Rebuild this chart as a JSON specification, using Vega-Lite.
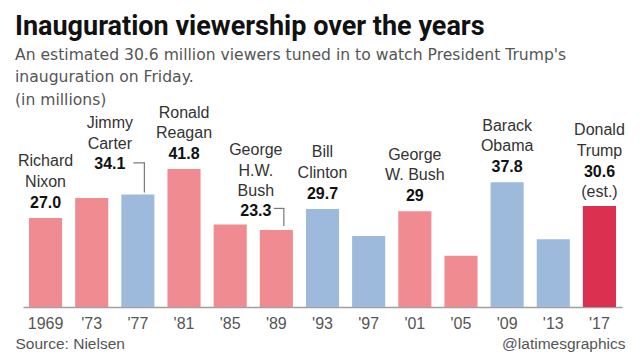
{
  "$schema": "https://vega.github.io/schema/vega-lite/v6.json",
  "width": 599,
  "height": 198,
  "autosize": "none",
  "padding": {"left": 23, "top": 109, "right": 18, "bottom": 56},
  "background": "white",
  "config": {"view": {"stroke": null}},
  "title": {
    "text": "Inauguration viewership over the years",
    "subtitle": ["An estimated 30.6 million viewers tuned in to watch President Trump's", "inauguration on Friday.", "(in millions)"],
    "anchor": "start",
    "frame": "group",
    "dx": -8,
    "offset": -5,
    "font": "Roboto",
    "fontSize": 27,
    "fontWeight": "bold",
    "color": "#111111",
    "subtitleFont": "DejaVu Sans",
    "subtitleFontSize": 15.6,
    "subtitleColor": "#555555",
    "subtitleLineHeight": 22.5,
    "subtitlePadding": 6.5
  },
  "data": {
    "values": [
      {"year": "1969", "v": 27.0, "party": "R", "pos": "c", "name": "Richard\nNixon", "label": "27.0"},
      {"year": "'73", "v": 33.0, "party": "R", "pos": "none"},
      {"year": "'77", "v": 34.1, "party": "D", "pos": "carter", "name": "Jimmy\nCarter", "label": "34.1"},
      {"year": "'81", "v": 41.8, "party": "R", "pos": "c", "name": "Ronald\nReagan", "label": "41.8"},
      {"year": "'85", "v": 25.0, "party": "R", "pos": "none"},
      {"year": "'89", "v": 23.3, "party": "R", "pos": "bush", "name": "George\nH.W.\nBush", "label": "23.3"},
      {"year": "'93", "v": 29.7, "party": "D", "pos": "c", "name": "Bill\nClinton", "label": "29.7"},
      {"year": "'97", "v": 21.5, "party": "D", "pos": "none"},
      {"year": "'01", "v": 29.0, "party": "R", "pos": "c", "name": "George\nW. Bush", "label": "29"},
      {"year": "'05", "v": 15.5, "party": "R", "pos": "none"},
      {"year": "'09", "v": 37.8, "party": "D", "pos": "c", "name": "Barack\nObama", "label": "37.8"},
      {"year": "'13", "v": 20.5, "party": "D", "pos": "none"},
      {"year": "'17", "v": 30.6, "party": "T", "pos": "trump", "name": "Donald\nTrump", "label": "30.6", "note": "(est.)"}
    ]
  },
  "encoding": {
    "x": {
      "field": "year", "type": "ordinal", "sort": null,
      "scale": {"paddingInner": 0.283, "paddingOuter": 0.13},
      "axis": {
        "title": "Source: Nielsen", "titleX": -8, "titleY": 41, "titleAlign": "left", "titleAnchor": "start",
        "titleBaseline": "alphabetic", "titleFont": "Liberation Sans", "titleFontSize": 15.5,
        "titleFontWeight": "normal", "titleColor": "#555555",
        "labelAngle": 0, "labelFont": "Liberation Sans", "labelFontSize": 16, "labelColor": "#555555",
        "ticks": false, "labelPadding": 8, "domainColor": "#a0a0a0", "domainWidth": 1.3
      }
    },
    "y": {
      "field": "v", "type": "quantitative",
      "scale": {"domain": [0, 60]},
      "axis": {
        "orient": "right", "title": "@latimesgraphics", "titleAngle": 0, "titleX": 3, "titleY": 239,
        "titleAlign": "right", "titleBaseline": "alphabetic", "titleFont": "Liberation Sans",
        "titleFontSize": 15.5, "titleFontWeight": "normal", "titleColor": "#555555",
        "labels": false, "ticks": false, "domain": false, "grid": false
      }
    }
  },
  "layer": [
    {
      "mark": {"type": "bar"},
      "encoding": {
        "color": {"field": "party", "type": "nominal", "legend": null,
          "scale": {"domain": ["R", "D", "T"], "range": ["#f08c91", "#9dbadd", "#dc3050"]}}
      }
    },
    {
      "transform": [{"filter": "datum.pos == 'c'"}],
      "mark": {"type": "text", "baseline": "alphabetic", "lineBreak": "\n", "lineHeight": 20.5, "dy": -51.5, "font": "Liberation Sans", "fontSize": 16, "color": "#333333"},
      "encoding": {"text": {"field": "name"}}
    },
    {
      "transform": [{"filter": "datum.pos == 'c'"}],
      "mark": {"type": "text", "baseline": "alphabetic", "dy": -10, "font": "Liberation Sans", "fontSize": 16, "fontWeight": "bold", "color": "#111111"},
      "encoding": {"text": {"field": "label"}}
    },
    {
      "transform": [{"filter": "datum.pos == 'trump'"}],
      "mark": {"type": "text", "baseline": "alphabetic", "lineBreak": "\n", "lineHeight": 20.5, "dy": -71, "font": "Liberation Sans", "fontSize": 16, "color": "#333333"},
      "encoding": {"text": {"field": "name"}}
    },
    {
      "transform": [{"filter": "datum.pos == 'trump'"}],
      "mark": {"type": "text", "baseline": "alphabetic", "dy": -29.3, "font": "Liberation Sans", "fontSize": 16, "fontWeight": "bold", "color": "#111111"},
      "encoding": {"text": {"field": "label"}}
    },
    {
      "transform": [{"filter": "datum.pos == 'trump'"}],
      "mark": {"type": "text", "baseline": "alphabetic", "dy": -9.5, "font": "Liberation Sans", "fontSize": 16, "color": "#333333"},
      "encoding": {"text": {"field": "note"}}
    },
    {
      "transform": [{"filter": "datum.pos == 'carter'"}],
      "mark": {"type": "text", "baseline": "alphabetic", "lineBreak": "\n", "lineHeight": 20.7, "dy": -66, "dx": -28, "font": "Liberation Sans", "fontSize": 16, "color": "#333333"},
      "encoding": {"text": {"field": "name"}}
    },
    {
      "transform": [{"filter": "datum.pos == 'carter'"}],
      "mark": {"type": "text", "baseline": "alphabetic", "dy": -25, "dx": -28, "font": "Liberation Sans", "fontSize": 16, "fontWeight": "bold", "color": "#111111"},
      "encoding": {"text": {"field": "label"}}
    },
    {
      "transform": [{"filter": "datum.pos == 'bush'"}],
      "mark": {"type": "text", "baseline": "alphabetic", "lineBreak": "\n", "lineHeight": 20.4, "dy": -75, "dx": -20.5, "font": "Liberation Sans", "fontSize": 16, "color": "#333333"},
      "encoding": {"text": {"field": "name"}}
    },
    {
      "transform": [{"filter": "datum.pos == 'bush'"}],
      "mark": {"type": "text", "baseline": "alphabetic", "dy": -14, "dx": -20.5, "font": "Liberation Sans", "fontSize": 16, "fontWeight": "bold", "color": "#111111"},
      "encoding": {"text": {"field": "label"}}
    },
    {
      "transform": [{"filter": "datum.pos == 'carter'"}],
      "mark": {"type": "rule", "color": "#777777", "strokeWidth": 1.2, "xOffset": 6.5, "yOffset": -2, "y2Offset": -31.6},
      "encoding": {"y2": {"field": "v"}}
    },
    {
      "transform": [{"filter": "datum.pos == 'carter'"}],
      "mark": {"type": "rule", "color": "#777777", "strokeWidth": 1.2, "xOffset": -4.5, "x2Offset": 7.1, "yOffset": -31.6},
      "encoding": {"x2": {"field": "year"}}
    },
    {
      "transform": [{"filter": "datum.pos == 'bush'"}],
      "mark": {"type": "rule", "color": "#777777", "strokeWidth": 1.2, "xOffset": 7.5, "yOffset": -4, "y2Offset": -21.7},
      "encoding": {"y2": {"field": "v"}}
    },
    {
      "transform": [{"filter": "datum.pos == 'bush'"}],
      "mark": {"type": "rule", "color": "#777777", "strokeWidth": 1.2, "xOffset": -2.5, "x2Offset": 8.1, "yOffset": -21.7},
      "encoding": {"x2": {"field": "year"}}
    }
  ]
}
